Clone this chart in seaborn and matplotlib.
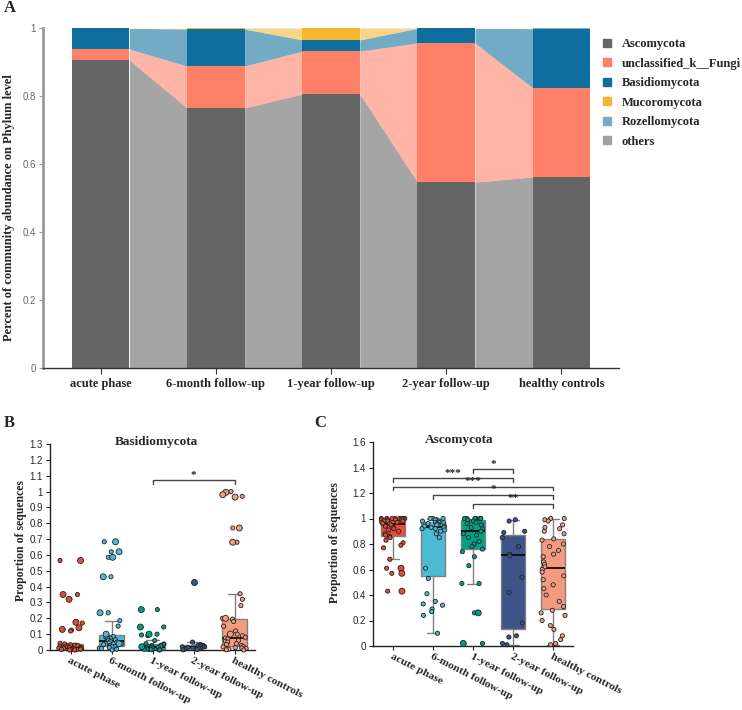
import numpy as np
import pandas as pd
import seaborn as sns
import matplotlib.pyplot as plt
from matplotlib.lines import Line2D
from matplotlib.ticker import FuncFormatter

sns.set_style('white')
plt.rcParams['font.family'] = ['Liberation Sans', 'DejaVu Sans']

groups = ['acute phase', '6-month follow-up', '1-year follow-up', '2-year follow-up', 'healthy controls']

# Panel A: community abundance on phylum level
phyla = ['Ascomycota', 'unclassified_k__Fungi', 'Basidiomycota', 'Mucoromycota', 'Rozellomycota', 'others']
ascomycota = [0.906, 0.765, 0.806, 0.547, 0.562]
unclassified = [0.032, 0.123, 0.126, 0.409, 0.262]
basidiomycota = [0.061, 0.109, 0.033, 0.043, 0.174]
mucoromycota = [0.000, 0.002, 0.035, 0.000, 0.000]
rozellomycota = [0.000, 0.000, 0.000, 0.000, 0.001]
others = [0.001, 0.001, 0.000, 0.001, 0.001]

# Panel B: Basidiomycota proportion per sample
basid_acute = [0.565, 0.35, 0.32, 0.18, 0.17, 0.125, 0.12, 0.042, 0.038, 0.033, 0.03, 0.028, 0.025,
               0.022, 0.02, 0.018, 0.017, 0.015, 0.013, 0.012, 0.01, 0.009, 0.008, 0.006, 0.005,
               0.004, 0.003, 0.002, 0.0, 0.0]
basid_6m = [0.683, 0.62, 0.585, 0.462, 0.235, 0.185, 0.151, 0.092, 0.085, 0.08, 0.075, 0.07, 0.065,
            0.06, 0.055, 0.05, 0.045, 0.04, 0.035, 0.03, 0.028, 0.025, 0.022, 0.02, 0.015, 0.012,
            0.01, 0.005, 0.0]
basid_1y = [0.255, 0.145, 0.1, 0.095, 0.09, 0.06, 0.04, 0.038, 0.035, 0.03, 0.028, 0.025, 0.022,
            0.02, 0.018, 0.015, 0.012, 0.01, 0.008, 0.006, 0.005, 0.004, 0.003, 0.002, 0.001, 0.0]
basid_2y = [0.43, 0.05, 0.035, 0.03, 0.028, 0.025, 0.022, 0.02, 0.018, 0.015, 0.012, 0.01, 0.008,
            0.005, 0.003, 0.001]
basid_hc = [1.0, 0.97, 0.77, 0.68, 0.355, 0.32, 0.28, 0.2, 0.195, 0.18, 0.15, 0.12, 0.1, 0.09, 0.08,
            0.075, 0.07, 0.06, 0.055, 0.05, 0.04, 0.035, 0.028, 0.022, 0.02, 0.015, 0.012, 0.01,
            0.005, 0.002, 0.0]
# samples drawn with the bigger marker
basid_acute_big = [0.565, 0.35, 0.32, 0.175, 0.14, 0.13]
basid_6m_big = [0.683, 0.62, 0.585, 0.462, 0.235, 0.1, 0.04]
basid_1y_big = [0.255, 0.145, 0.1, 0.02]
basid_2y_big = [0.43]
basid_hc_big = [0.995, 0.98, 0.965, 0.77, 0.68, 0.2, 0.1]

# Panel C: Ascomycota proportion per sample
asco_acute = [1.0, 1.0, 1.0, 1.0, 1.0, 1.0, 1.0, 1.0, 1.0, 1.0, 0.99, 0.99, 0.99, 0.99, 0.98, 0.98,
              0.98, 0.97, 0.97, 0.96, 0.96, 0.95, 0.94, 0.93, 0.92, 0.91, 0.90, 0.88, 0.87, 0.86,
              0.85, 0.83, 0.81, 0.79, 0.77, 0.68, 0.61, 0.57, 0.43]
asco_6m = [1.0, 1.0, 1.0, 0.99, 0.99, 0.98, 0.98, 0.97, 0.97, 0.97, 0.96, 0.96, 0.95, 0.95, 0.94,
           0.94, 0.93, 0.93, 0.92, 0.92, 0.91, 0.90, 0.88, 0.85, 0.61, 0.53, 0.41, 0.35, 0.33, 0.32,
           0.29, 0.27, 0.24, 0.10]
asco_1y = [1.0, 1.0, 1.0, 1.0, 1.0, 1.0, 1.0, 0.99, 0.98, 0.97, 0.96, 0.95, 0.93, 0.92, 0.90, 0.88,
           0.87, 0.85, 0.82, 0.80, 0.78, 0.76, 0.74, 0.70, 0.63, 0.49, 0.49, 0.26, 0.02]
asco_2y = [0.99, 0.98, 0.90, 0.89, 0.85, 0.78, 0.72, 0.71, 0.54, 0.42, 0.18, 0.08, 0.07, 0.02, 0.01]
asco_hc = [1.0, 1.0, 0.99, 0.98, 0.95, 0.93, 0.92, 0.90, 0.88, 0.84, 0.83, 0.80, 0.78, 0.75, 0.72,
           0.70, 0.66, 0.64, 0.62, 0.60, 0.58, 0.55, 0.52, 0.48, 0.45, 0.40, 0.35, 0.31, 0.28, 0.26,
           0.24, 0.20, 0.16, 0.13, 0.08, 0.05, 0.02, 0.01]
asco_acute_big = [0.61, 0.57, 0.43]
asco_6m_big = []
asco_1y_big = [0.26, 0.02]
asco_2y_big = []
asco_hc_big = []

# significance brackets: (group a, group b, height, label)
basid_sig = [(2, 4, 1.07, '*')]
asco_sig = [(2, 3, 1.386, '*'), (0, 3, 1.315, '***'), (0, 4, 1.25, '***'),
            (1, 4, 1.184, '*'), (2, 4, 1.114, '**')]

phylum_colors = ['#656565', '#FF7F67', '#0E6E9E', '#F5B731', '#7FA8C2', '#A0A0A0']
npg = ['#E64B35', '#4DBBD5', '#00A087', '#3C5488', '#F39B7F']

serif_bold = dict(family=['Liberation Serif', 'DejaVu Serif'], weight='bold')
fmt = FuncFormatter(lambda v, p: '{:g}'.format(round(v, 2)))

fig = plt.figure(figsize=(7.42, 7.10), dpi=100)

# ---------------- Panel A ----------------
axA = fig.add_axes([43 / 742, 1 - 368 / 710, 576 / 742, 340 / 710])
layers = [ascomycota, unclassified, basidiomycota, mucoromycota, rozellomycota, others]
bottom = np.zeros(len(groups))
for vals, col in zip(layers, phylum_colors):
    top = bottom + np.array(vals)
    sns.barplot(x=groups, y=vals, bottom=bottom, color=col, width=0.5, saturation=1,
                linewidth=0, ax=axA)
    # faded band linking neighbouring bars
    for i in range(len(groups) - 1):
        axA.fill_between([i + 0.25, i + 0.75], [bottom[i], bottom[i + 1]], [top[i], top[i + 1]],
                         color=col, alpha=0.58, lw=0)
    bottom = top

axA.set_xlim(-0.5, 4.5)
axA.set_ylim(0, 1)
axA.set_yticks(np.arange(0, 1.01, 0.2))
axA.yaxis.set_major_formatter(fmt)
for s in ['top', 'right']:
    axA.spines[s].set_visible(False)
axA.spines['left'].set_color('#9a9a9a')
axA.spines['left'].set_linewidth(2)
axA.spines['bottom'].set_color('#333333')
axA.spines['bottom'].set_linewidth(1)
axA.tick_params(axis='y', left=True, length=3, pad=2, color='#9a9a9a', labelcolor='#666666',
                labelsize=7)
axA.tick_params(axis='x', bottom=True, length=4, color='#333333')
for lab in axA.get_xticklabels():
    lab.set_fontproperties(dict(size=9, **serif_bold))
axA.set_xlabel('')
axA.set_ylabel('')
fig.text(9 / 742, 1 - 208 / 710, 'Percent of community abundance on Phylum level', rotation=90,
         ha='center', va='center', fontsize=9, **serif_bold)

handles = [Line2D([], [], marker='s', ls='', color=c, markersize=5.5) for c in phylum_colors]
fig.legend(handles, phyla, loc='upper left', bbox_to_anchor=(588 / 742, 1 - 27 / 710),
           frameon=False, prop=dict(size=9, **serif_bold), handletextpad=0.6,
           labelspacing=0.6, handlelength=1.2)


def box_panel(ax, main, big, sig, title, ymax, ystep, title_x):
    df = pd.DataFrame({'group': np.repeat(groups, [len(v) for v in main]),
                       'value': np.concatenate(main)})
    dfb = pd.DataFrame({'group': np.repeat(groups, [len(v) for v in big]),
                        'value': np.concatenate([np.array(v, dtype=float) for v in big])})
    sns.boxplot(data=df, x='group', y='value', hue='group', order=groups, hue_order=groups,
                palette=npg, width=0.62, showfliers=False, linewidth=1, linecolor='#808080',
                saturation=1, medianprops={'color': 'black', 'linewidth': 1.2}, legend=False, ax=ax)
    sns.stripplot(data=df, x='group', y='value', hue='group', order=groups, hue_order=groups,
                  palette=npg, size=3.0, jitter=0.3, linewidth=0.6, edgecolor='#222222',
                  legend=False, ax=ax, zorder=3, clip_on=False)
    sns.stripplot(data=dfb, x='group', y='value', hue='group', order=groups, hue_order=groups,
                  palette=npg, size=4.3, jitter=0.3, linewidth=0.6, edgecolor='#222222',
                  legend=False, ax=ax, zorder=3, clip_on=False)
    # empty groups leave an unclipped marker at the figure corner; drop them
    for coll in list(ax.collections):
        if len(coll.get_offsets()) == 0:
            coll.remove()
    h = ymax * 0.018
    for a, b, y, lab in sig:
        ax.plot([a, a, b, b], [y - h, y, y, y - h], color='#444444', lw=1, clip_on=False)
        ax.text((a + b) / 2, y + h * 0.2, lab, ha='center', va='bottom', fontsize=8,
                color='#222222', **serif_bold)
    ax.set_xlim(-0.5, 4.5)
    ax.set_ylim(0, ymax)
    ax.set_yticks(np.arange(0, ymax + 1e-6, ystep))
    ax.yaxis.set_major_formatter(fmt)
    for s in ['top', 'right']:
        ax.spines[s].set_visible(False)
    for s in ['left', 'bottom']:
        ax.spines[s].set_color('#222222')
        ax.spines[s].set_linewidth(1)
    ax.tick_params(axis='y', left=True, length=3, pad=2, labelsize=7, color='#222222')
    ax.tick_params(axis='x', bottom=True, length=3, pad=1.5, color='#222222')
    ax.set_xticks(range(len(groups)))
    ax.set_xticklabels(groups, rotation=-27, ha='left', va='top', rotation_mode='anchor',
                       fontsize=8.2, **serif_bold)
    ax.set_xlabel('')
    ax.set_ylabel('')
    ax.text(title_x, 1.01, title, transform=ax.transAxes, ha='center', va='center',
            fontsize=9.5, **serif_bold)


np.random.seed(7)
axB = fig.add_axes([50 / 742, 1 - 650 / 710, 205 / 742, 206 / 710])
box_panel(axB, [basid_acute, basid_6m, basid_1y, basid_2y, basid_hc],
          [basid_acute_big, basid_6m_big, basid_1y_big, basid_2y_big, basid_hc_big],
          basid_sig, 'Basidiomycota', 1.3, 0.1, 0.52)

axC = fig.add_axes([373 / 742, 1 - 646 / 710, 200 / 742, 204 / 710])
box_panel(axC, [asco_acute, asco_6m, asco_1y, asco_2y, asco_hc],
          [asco_acute_big, asco_6m_big, asco_1y_big, asco_2y_big, asco_hc_big],
          asco_sig, 'Ascomycota', 1.6, 0.2, 0.43)

fig.text(21 / 742, 1 - 541 / 710, 'Proportion of sequences', rotation=90, ha='center',
         va='center', fontsize=8.5, **serif_bold)
fig.text(335 / 742, 1 - 543 / 710, 'Proportion of sequences', rotation=90, ha='center',
         va='center', fontsize=8.5, **serif_bold)

fig.text(10 / 742, 1 - 8 / 710, 'A', ha='center', va='center', fontsize=12, **serif_bold)
fig.text(9 / 742, 1 - 423 / 710, 'B', ha='center', va='center', fontsize=12, **serif_bold)
fig.text(320 / 742, 1 - 423 / 710, 'C', ha='center', va='center', fontsize=12, **serif_bold)

fig.savefig('out.png', dpi=100)
